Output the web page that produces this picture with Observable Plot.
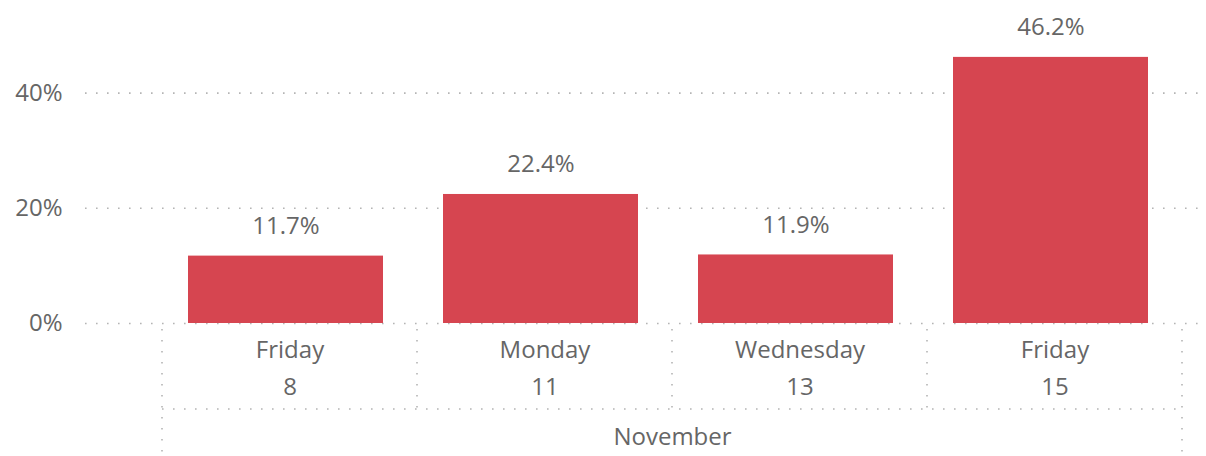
<!DOCTYPE html>
<html>
<head>
<meta charset="utf-8">
<script src="https://cdn.jsdelivr.net/npm/d3@7"></script>
<script src="https://cdn.jsdelivr.net/npm/@observablehq/plot@0.6"></script>
<style>
  html, body { margin: 0; padding: 0; background: #fff; }
</style>
</head>
<body>
<div id="chart"></div>
<script>
const days = ["8", "11", "13", "15"];
const weekdays = ["Friday", "Monday", "Wednesday", "Friday"];
const month = "November";
const values = [0.117, 0.224, 0.119, 0.462];
const yTicks = [0, 0.2, 0.4];

const barColor = "#d64550";
const textColor = "#666666";
const gridColor = "#b4b4b4";
const font = "'Open Sans', 'Noto Sans', sans-serif";

const data = days.map((d, i) => ({ day: d, weekday: weekdays[i], value: values[i] }));
const pct = v => (v * 100).toFixed(1) + "%";

const chart = Plot.plot({
  width: 1206,
  height: 456,
  marginLeft: 162,
  marginRight: 24,
  marginTop: 35,
  marginBottom: 133,
  x: { domain: days, paddingInner: 0.235, paddingOuter: 0.1175, axis: null },
  y: { domain: [0, 0.5], axis: null },
  style: { fontFamily: font, fontSize: "24px", color: textColor, background: "#fff", overflow: "visible" },
  marks: [
    Plot.ruleY(yTicks, { stroke: gridColor, strokeWidth: 1.6, strokeDasharray: "1.6,9.4", insetLeft: -77, insetRight: -18 }),
    Plot.axisY(yTicks, { tickSize: 0, tickPadding: 100, tickFormat: d => Math.round(d * 100) + "%", fontSize: 24, fill: textColor, label: null }),
    Plot.barY(data, { x: "day", y: "value", fill: barColor, dx: -4 }),
    Plot.text(data, { x: "day", y: "value", text: d => pct(d.value), dy: -30, dx: -4, lineAnchor: "middle", fontSize: 24, fill: textColor }),
    Plot.text(data, { x: "day", frameAnchor: "bottom", text: "weekday", dy: 27, lineAnchor: "middle", fontSize: 24, fill: textColor }),
    Plot.text(data, { x: "day", frameAnchor: "bottom", text: "day", dy: 64, lineAnchor: "middle", fontSize: 24, fill: textColor }),
    Plot.text([month], { frameAnchor: "bottom", text: d => d, dy: 114, lineAnchor: "middle", fontSize: 24, fill: textColor })
  ]
});

document.getElementById("chart").appendChild(chart);

// Category separators derived from the band scale
const xs = chart.scale("x");
const ys = chart.scale("y");
const half = (xs.step - xs.bandwidth) / 2;
const edges = days.map(d => xs.apply(d) - half);
edges.push(edges[edges.length - 1] + xs.step);
const y0 = ys.apply(0);
const svg = d3.select(chart);
const g = svg.append("g")
  .attr("stroke", gridColor)
  .attr("stroke-width", 1.6)
  .attr("stroke-dasharray", "1.6,9.4")
  .attr("fill", "none");
edges.forEach((x, i) => {
  const outer = i === 0 || i === edges.length - 1;
  g.append("line")
    .attr("x1", x).attr("x2", x)
    .attr("y1", y0 + 6).attr("y2", outer ? 456 : y0 + 86);
});
g.append("line")
  .attr("x1", edges[0]).attr("x2", edges[edges.length - 1])
  .attr("y1", y0 + 86).attr("y2", y0 + 86);
</script>
</body>
</html>
